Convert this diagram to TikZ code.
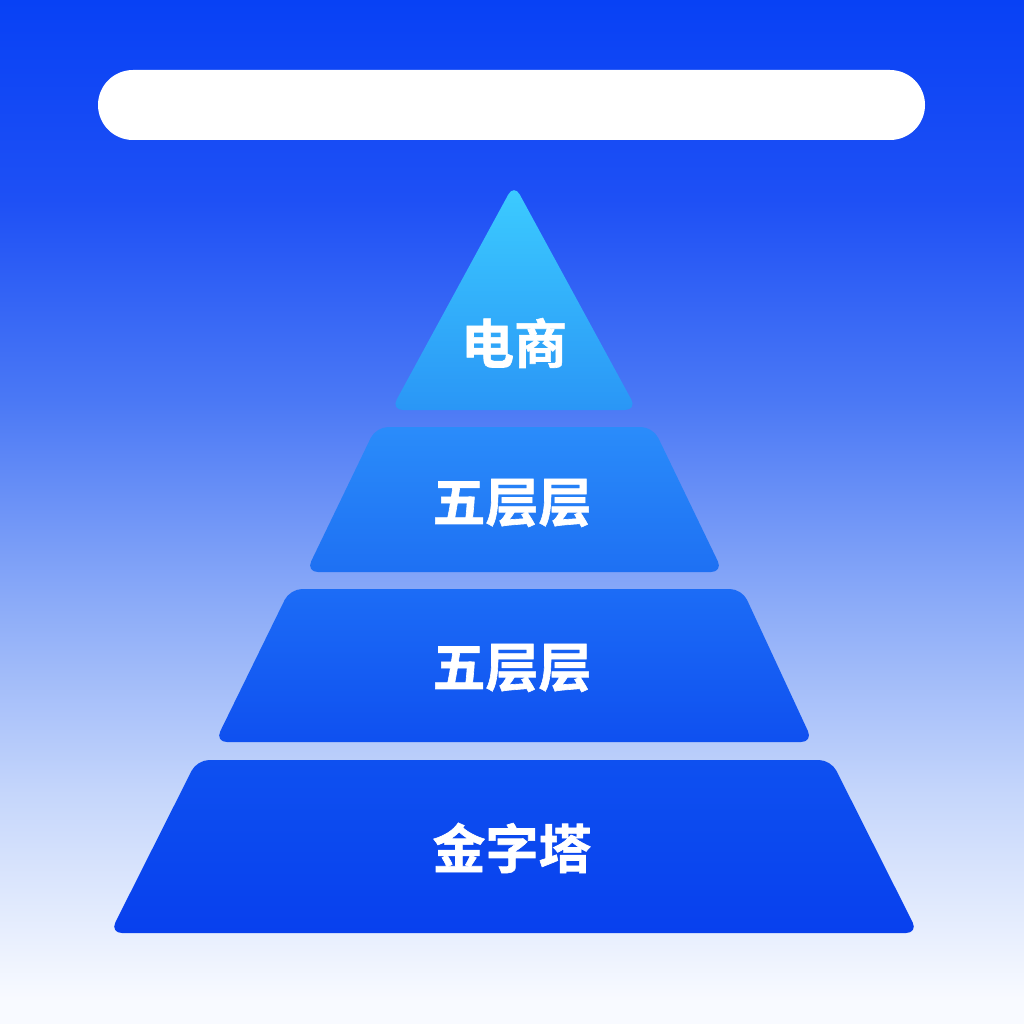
\documentclass[tikz,border=0pt]{standalone}
\usepackage{fontspec}
\newfontfamily\cjk[FakeBold=1.2]{Noto Sans CJK SC Bold}
\definecolor{bgA}{HTML}{0841F5}
\definecolor{bgB}{HTML}{1E50F5}
\definecolor{bgC}{HTML}{4A78F5}
\definecolor{bgD}{HTML}{8AAAF8}
\definecolor{bgE}{HTML}{C5D6FB}
\definecolor{bgF}{HTML}{F8FAFF}
\definecolor{t1a}{HTML}{3CCCFF}
\definecolor{t1b}{HTML}{2A96F6}
\definecolor{t2a}{HTML}{2A8CFA}
\definecolor{t2b}{HTML}{1E70F3}
\definecolor{t3a}{HTML}{1C6CF6}
\definecolor{t3b}{HTML}{0F50F0}
\definecolor{t4a}{HTML}{0E50F0}
\definecolor{t4b}{HTML}{0840EE}
\pgfdeclareverticalshading{bgshade}{100bp}{color(0bp)=(bgF); color(26.25bp)=(bgF); color(36.25bp)=(bgE); color(45.75bp)=(bgD); color(55.5bp)=(bgC); color(65.25bp)=(bgB); color(75bp)=(bgA); color(100bp)=(bgA)}
\tikzset{
  layer/.style={rounded corners=12pt},
  lbl/.style={text=white, font=\cjk\fontsize{53}{53}\selectfont, inner sep=0pt, anchor=center}
}
\begin{document}
\begin{tikzpicture}[x=1pt,y=-1pt]
\useasboundingbox (0,0) rectangle (1024,1024);
\shade[shading=bgshade] (0,0) rectangle (1024,1024);
% top bar
\fill[white, rounded corners=35pt] (98,70) rectangle (925,140);
% layers
\shade[layer, top color=t1a, bottom color=t1b, rounded corners=12pt] (514,184) -- (637,410) -- (391,410) -- cycle;
\shade[layer, top color=t2a, bottom color=t2b] (376,427) -- (653,427) -- (723,572) -- (306,572) -- cycle;
\shade[layer, top color=t3a, bottom color=t3b] (290,589) -- (742,589) -- (813,742) -- (215,742) -- cycle;
\shade[layer, top color=t4a, bottom color=t4b] (197,760) -- (831,760) -- (918,933) -- (110,933) -- cycle;
% labels
\node[lbl] (l1) at (514,343) {电商};
\node[lbl] (l2) at (512,503) {五层层};
\node[lbl] (l3) at (512,668) {五层层};
\node[lbl] (l4) at (512,848) {金字塔};
\end{tikzpicture}
\end{document}
